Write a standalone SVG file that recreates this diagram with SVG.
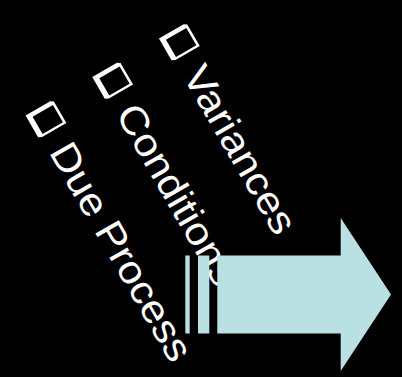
<svg xmlns="http://www.w3.org/2000/svg" width="402" height="377" viewBox="0 0 402 377">
<style>
.t{font-family:"Liberation Sans",Arial,sans-serif;font-size:39px;fill:#fff}
.arr{fill:#B9E0E3}
</style>
<defs>
<g id="bul">
<path d="M-11,-16 L14,-16 L14,12 L12,15.5 L-13,15.5 L-13,-13 Z" fill="#fff"/>
<rect x="-8.5" y="-13.5" width="20" height="23.5" fill="#000"/>
</g>
</defs>
<rect width="402" height="377" fill="#000"/>
<g id="item-due" transform="translate(45.5,119) rotate(60)">
<use href="#bul"/>
<text class="t" transform="translate(30,14) scale(1.1,1)">Due Process</text>
</g>
<g id="item-conditions" transform="translate(112.2,80.5) rotate(60)">
<use href="#bul"/>
<text class="t" transform="translate(30,14) scale(1.1,1)">Conditions</text>
</g>
<g id="item-variances" transform="translate(178.9,42) rotate(60)">
<use href="#bul"/>
<text class="t" transform="translate(30,14) scale(1.1,1)">Variances</text>
</g>
<g id="arrow">
<rect class="arr" x="185.3" y="255.5" width="4.4" height="78"/>
<rect class="arr" x="198" y="255.5" width="11.3" height="78"/>
<path class="arr" d="M217.3,255.5 L340.7,255.5 L340.7,218 L391,294.5 L340.7,371 L340.7,333.5 L217.3,333.5 Z"/>
</g>
<g id="connectors"/>
</svg>
